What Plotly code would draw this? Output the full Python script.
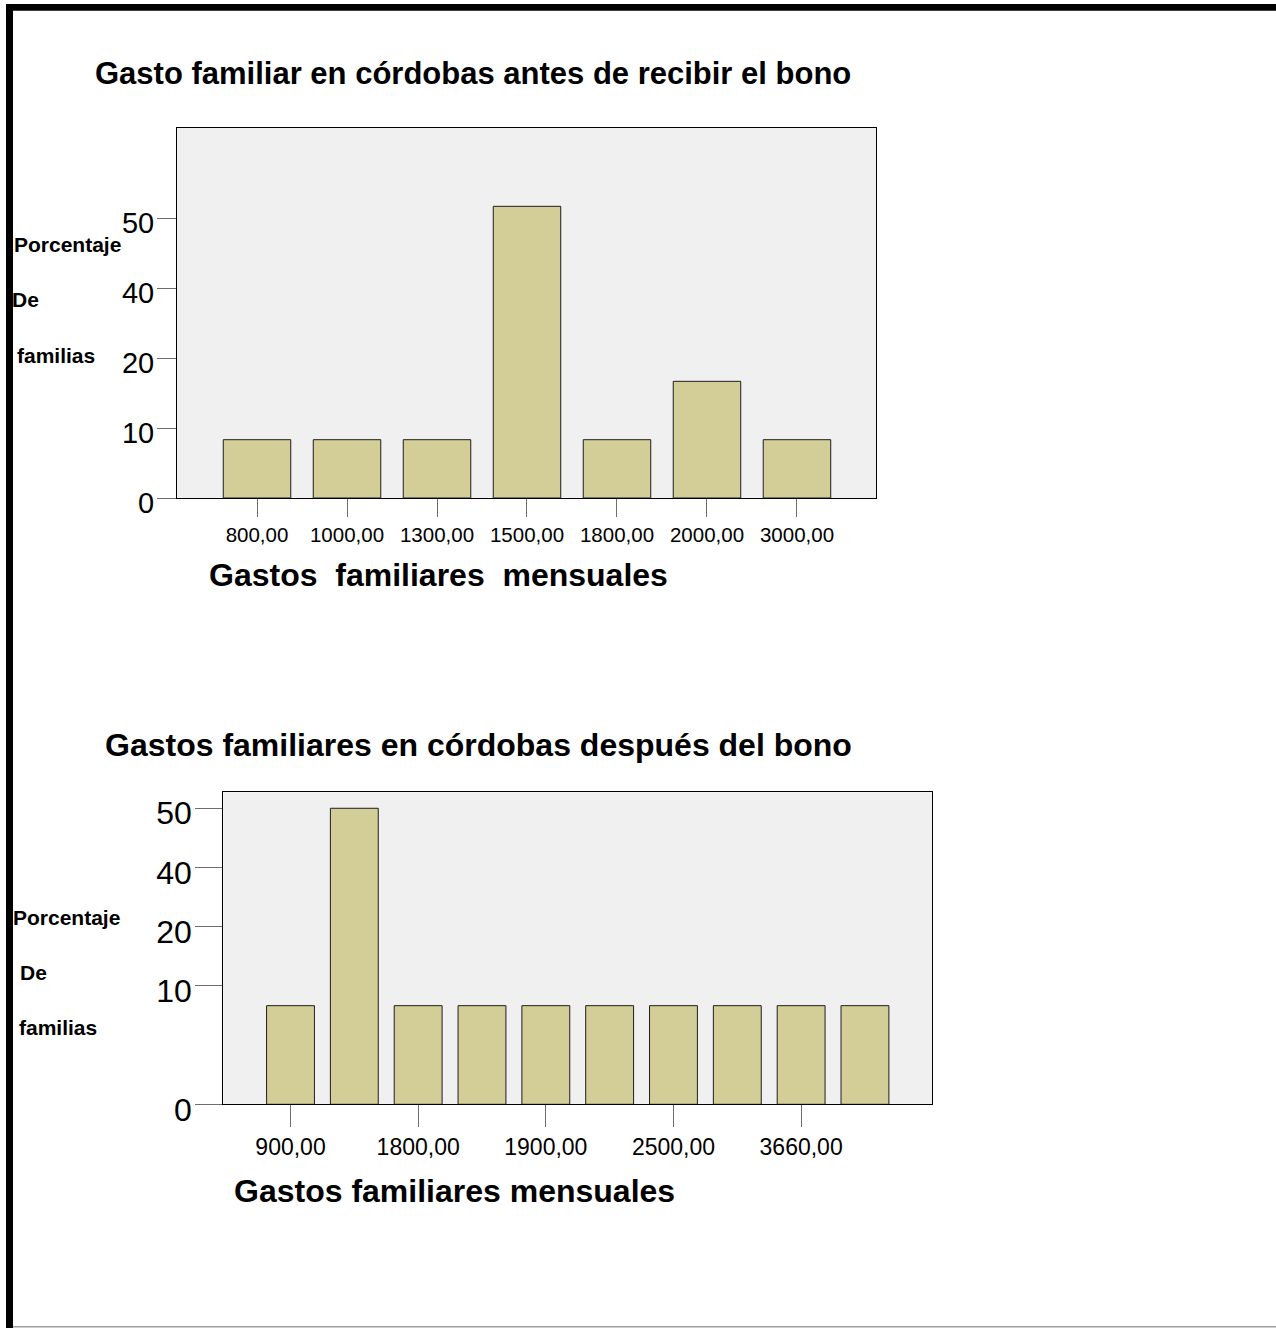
import plotly.graph_objects as go

W, H = 1276, 1328

# ---- data ----
antes_categorias = ["800,00", "1000,00", "1300,00", "1500,00", "1800,00", "2000,00", "3000,00"]
antes_porcentaje = [8.33, 8.33, 8.33, 41.67, 8.33, 16.67, 8.33]
antes_y_tickvals = [0, 10, 20, 30, 40]
antes_y_ticktext = ["0", "10", "20", "40", "50"]

despues_indice = [0, 1, 2, 3, 4, 5, 6, 7, 8, 9]
despues_porcentaje = [8.33, 25.0, 8.33, 8.33, 8.33, 8.33, 8.33, 8.33, 8.33, 8.33]
despues_tick_indice = [0, 2, 4, 6, 8]
despues_tick_texto = ["900,00", "1800,00", "1900,00", "2500,00", "3660,00"]
despues_y_tickvals = [0, 10, 15, 20, 25]
despues_y_ticktext = ["0", "10", "20", "40", "50"]


def fx(px):
    return px / W


def fy(py):
    return 1 - py / H


BAR = "#d3ce97"
EDGE = "#1e1e1e"
TICK = "#6e6e6e"
ARIAL = "Liberation Sans, Arial, sans-serif"

fig = go.Figure()
fig.add_trace(go.Bar(x=antes_categorias, y=antes_porcentaje, width=0.75,
                     marker=dict(color=BAR, line=dict(color=EDGE, width=1)),
                     xaxis="x", yaxis="y", showlegend=False))
fig.add_trace(go.Bar(x=despues_indice, y=despues_porcentaje, width=0.75,
                     marker=dict(color=BAR, line=dict(color=EDGE, width=1)),
                     xaxis="x2", yaxis="y2", showlegend=False))

axis_common = dict(showgrid=False, zeroline=False, showline=True, mirror=True,
                   linecolor="#000000", linewidth=1, ticks="outside",
                   tickcolor=TICK, tickwidth=1, fixedrange=True, automargin=False)

fig.update_layout(
    width=W, height=H, autosize=False,
    margin=dict(l=0, r=0, t=0, b=0, pad=0, autoexpand=False),
    paper_bgcolor="white", plot_bgcolor="#f0f0f0",
    font=dict(family=ARIAL, color="black"),
    xaxis=dict(domain=[fx(177), fx(876)], anchor="y", type="category",
               categoryorder="array", categoryarray=antes_categorias,
               range=[-0.889, 6.878], ticklen=18,
               tickfont=dict(size=20.5, family=ARIAL), **axis_common),
    yaxis=dict(domain=[fy(498), fy(128)], anchor="x", range=[0, 52.86],
               tickmode="array", tickvals=antes_y_tickvals, ticktext=antes_y_ticktext,
               ticklen=19, ticklabelshift=5, ticklabelstandoff=-3,
               tickfont=dict(size=29, family=ARIAL), **axis_common),
    xaxis2=dict(domain=[fx(223.3), fx(932.3)], anchor="y2",
                range=[-1.053, 10.055], tickmode="array",
                tickvals=despues_tick_indice, ticktext=despues_tick_texto,
                ticklen=22, tickfont=dict(size=23, family=ARIAL), **axis_common),
    yaxis2=dict(domain=[fy(1104.3), fy(792.3)], anchor="x2", range=[0, 26.35],
                tickmode="array", tickvals=despues_y_tickvals, ticktext=despues_y_ticktext,
                ticklen=27, ticklabelshift=5, ticklabelstandoff=-3,
                tickfont=dict(size=32, family=ARIAL), **axis_common),
)


def label(text, x, yc, size, family=ARIAL):
    fig.add_annotation(text=text, x=fx(x), y=fy(yc), xref="paper", yref="paper",
                       xanchor="left", yanchor="middle", showarrow=False,
                       borderpad=0, font=dict(size=size, family=family, color="black"))


label("<b>Gasto familiar en córdobas antes de recibir el bono</b>", 94, 73, 31)
label("<b>Gastos\u00a0 familiares\u00a0 mensuales</b>", 208, 575, 32)
label("<b>Gastos familiares en córdobas después del bono</b>", 104, 745, 32)
label("<b>Gastos familiares mensuales</b>", 233, 1191, 32)

label("<b>Porcentaje</b>", 13, 244, 21)
label("<b>De</b>", 11, 299, 21)
label("<b>familias</b>", 16, 355, 21)
label("<b>Porcentaje</b>", 12, 917, 21)
label("<b>De</b>", 19, 972, 21)
label("<b>familias</b>", 18, 1027, 21)

# page frame
fig.add_shape(type="rect", xref="paper", yref="paper", x0=fx(6), x1=fx(13),
              y0=fy(1328), y1=fy(4), fillcolor="black", line=dict(width=0), layer="above")
fig.add_shape(type="rect", xref="paper", yref="paper", x0=fx(6), x1=fx(1276),
              y0=fy(10.7), y1=fy(4), fillcolor="black", line=dict(width=0), layer="above")
fig.add_shape(type="line", xref="paper", yref="paper", x0=fx(13), x1=fx(1276),
              y0=fy(1326.8), y1=fy(1326.8), line=dict(color="#a0a0a0", width=1.5))

post = """
var st = document.createElement('style');
st.textContent = 'html,body{margin:0;padding:0;overflow:hidden;}'
  + ' .plotly-graph-div{display:block;}';
document.head.appendChild(st);
"""

fig.write_html("out.html", config={"displayModeBar": False}, post_script=post)
